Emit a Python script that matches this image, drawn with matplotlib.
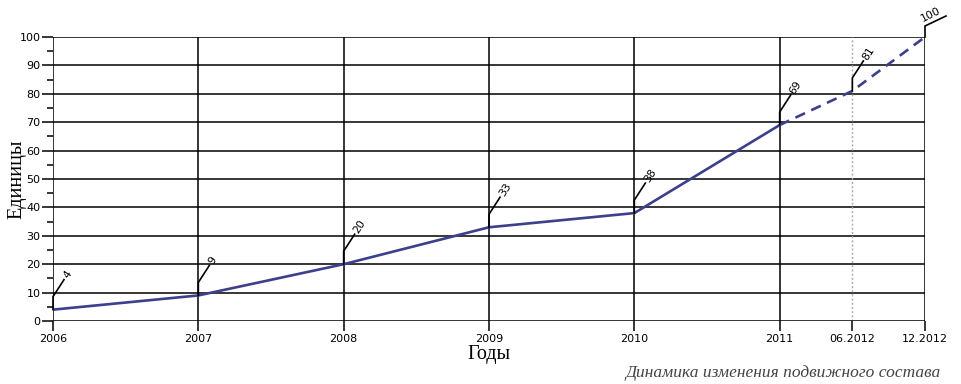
import matplotlib
matplotlib.use("Agg")
import matplotlib.pyplot as plt
from matplotlib.lines import Line2D
from matplotlib.transforms import IdentityTransform

# data
periods = ["2006", "2007", "2008", "2009", "2010", "2011", "06.2012", "12.2012"]
xpos = [0, 1, 2, 3, 4, 5, 5.5, 6]
units = [4, 9, 20, 33, 38, 69, 81, 100]
n_fact = 6   # first 6 points are actual, rest is forecast

line_color = "#3c3f8c"

fig = plt.figure(figsize=(9.61, 3.84), dpi=100)
ax = fig.add_axes([53 / 961, 1 - 321 / 384, (925 - 53) / 961, (321 - 37) / 384])

ax.set_xlim(0, 6)
ax.set_ylim(0, 100)

# grid
for y in range(10, 101, 10):
    ax.axhline(y, color="black", lw=1.1, zorder=1)
for x in xpos:
    if x == 5.5:
        ax.axvline(x, color="#aaaaaa", lw=1, ls=(0, (1.5, 1.5)), zorder=1)
    else:
        ax.axvline(x, color="black", lw=1.1, zorder=1)

for s in ax.spines.values():
    s.set_visible(False)
ax.axhline(0, color="black", lw=1.1, zorder=1)

# series
ax.plot(xpos[:n_fact], units[:n_fact], color=line_color, lw=1.9,
        solid_capstyle="round", zorder=3)
ax.plot(xpos[n_fact - 1:], units[n_fact - 1:], color=line_color, lw=1.9,
        ls=(0, (4, 2.6)), zorder=3)

# ticks
ax.set_xticks(xpos)
ax.set_xticklabels(periods)
ax.set_yticks(range(0, 101, 10))
ax.set_yticks(range(5, 100, 10), minor=True)
ax.tick_params(axis="y", which="major", length=8, width=1.1, pad=1, labelsize=8)
ax.tick_params(axis="y", which="minor", length=4, width=1.1)
ax.tick_params(axis="x", which="major", length=7, width=1.1, pad=2, labelsize=8)

ax.set_ylabel("Единицы", family="Liberation Serif", fontsize=14.5)
ax.yaxis.set_label_coords(-0.031, 0.5)
ax.set_xlabel("Годы", family="Liberation Serif", fontsize=14.5, labelpad=1)

# value labels with leader lines (drawn in pixels from each point)
ident = IdentityTransform()
for i, (x, v) in enumerate(zip(xpos, units)):
    px, py = ax.transData.transform((x, v))
    if i < len(units) - 1:
        xs = [px, px, px + 11]
        ys = [py, py + 13, py + 30]
        tx, ty, rot, va = px + 12.5, py + 32, 57, "center"
    else:
        xs = [px, px, px + 21]
        ys = [py, py + 11, py + 21]
        tx, ty, rot, va = px - 1, py + 13, 27, "bottom"
    fig.add_artist(Line2D(xs, ys, transform=ident, color="black", lw=1.2,
                          solid_joinstyle="miter"))
    fig.text(tx, ty, str(v), transform=ident, rotation=rot,
             rotation_mode="anchor", ha="left", va=va, fontsize=7.8)

fig.text(941 / 961, 1 - 373 / 384, "Динамика изменения подвижного состава",
         family="Liberation Serif", style="italic", fontsize=12.5,
         color="#444444", ha="right", va="center")

fig.savefig("out.png", dpi=100, facecolor="white")
